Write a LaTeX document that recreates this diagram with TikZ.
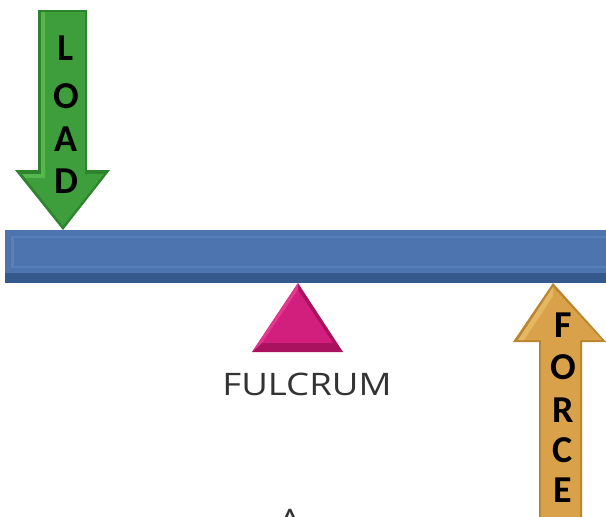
\documentclass[tikz,border=0pt]{standalone}
\usepackage{fontspec}
\setmainfont{Open Sans}
\newfontfamily\lblfont{Carlito}
\definecolor{beam}{HTML}{4D74AE}
\definecolor{beamdark}{HTML}{35598C}
\definecolor{beamlight}{HTML}{5680B8}
\definecolor{loadg}{HTML}{3E9E3C}
\definecolor{loadgd}{HTML}{2E832D}
\definecolor{loadgl}{HTML}{55B84E}
\definecolor{forceo}{HTML}{D9A24A}
\definecolor{forceod}{HTML}{B9852F}
\definecolor{forceol}{HTML}{E6B763}
\definecolor{fulc}{HTML}{D21F7E}
\definecolor{fulcd}{HTML}{A8125E}
\definecolor{fulcl}{HTML}{E3388F}
\tikzset{
  letter/.style={font=\lblfont\fontsize{38}{38}\selectfont\bfseries, text=black, inner sep=0pt},
  caption/.style={font=\fontsize{31}{31}\selectfont, text=black!80, inner sep=0pt, xscale=1.18}
}
\begin{document}
\begin{tikzpicture}[x=1pt,y=-1pt]
\clip (0,0) rectangle (606,517);
\fill[white] (0,0) rectangle (606,517);
% beam
\fill[beamdark] (5,230) rectangle (606,283);
\fill[beam] (5,230) rectangle (606,273);
\fill[beamlight] (11,236) rectangle (606,268);
\fill[beam] (14,238) rectangle (606,266);
% load arrow
\fill[loadgd] (38,10) -- (87,10) -- (87,170) -- (110,170) -- (63,230) -- (15,170) -- (38,170) -- cycle;
\fill[loadg] (41,12) -- (85,12) -- (85,174) -- (104,174) -- (63,226) -- (22,174) -- (41,174) -- cycle;
\fill[loadgl] (41,12) -- (45,12) -- (45,178) -- (26,178) -- (22,174) -- (41,174) -- cycle;
\node[letter] (l1) at (66,48) {L};
\node[letter] (l2) at (66,96) {O};
\node[letter] (l3) at (66,139) {A};
\node[letter] (l4) at (66,181) {D};
% force arrow
\fill[forceod] (553,283) -- (606,342) -- (582,342) -- (582,517) -- (539,517) -- (539,342) -- (513,342) -- cycle;
\fill[forceo] (553,287) -- (602,340) -- (580,340) -- (580,517) -- (541,517) -- (541,340) -- (518,340) -- cycle;
\fill[forceol] (553,287) -- (518,340) -- (524,340) -- (553,296) -- cycle;
\node[letter] (f1) at (563,325) {F};
\node[letter] (f2) at (563,367) {O};
\node[letter] (f3) at (563,410) {R};
\node[letter] (f4) at (563,450) {C};
\node[letter] (f5) at (563,490) {E};
% fulcrum
\fill[fulcd] (298,283) -- (343,352) -- (252,352) -- cycle;
\fill[fulc] (298,290) -- (333,343) -- (262,343) -- cycle;
\fill[fulcl] (298,283) -- (298,290) -- (262,343) -- (252,352) -- cycle;
\node[caption] (fulcrum) at (307,384) {FULCRUM};
\node[caption, anchor=north] (a) at (290,509) {A};
\end{tikzpicture}
\end{document}
